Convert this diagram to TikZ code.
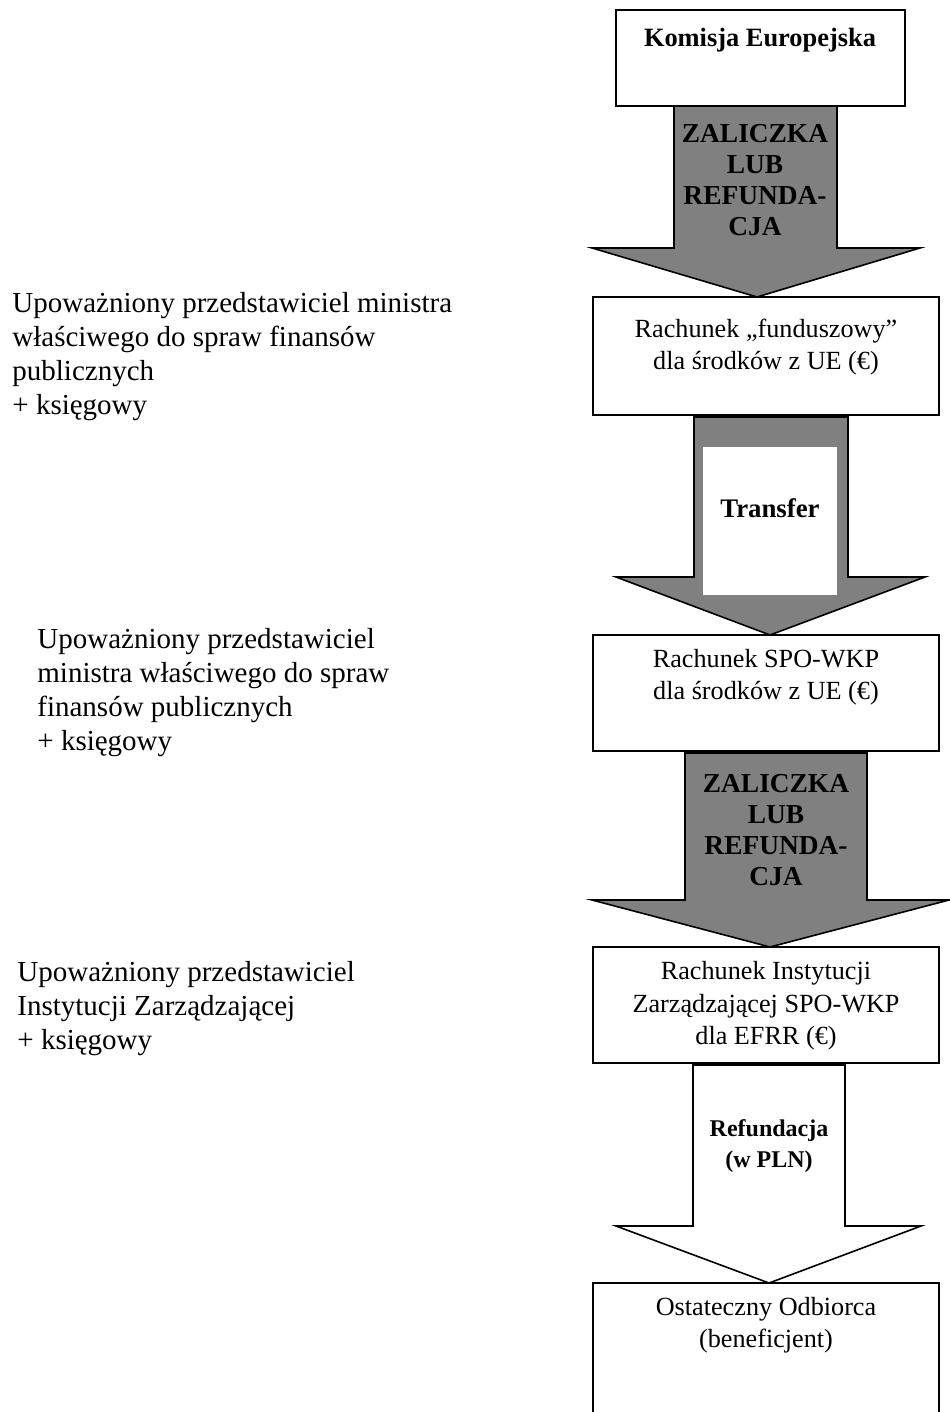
\documentclass[tikz,border=0pt]{standalone}
\usepackage{fontspec}
\setmainfont{Liberation Serif}
\usetikzlibrary{ positioning
               }

\begin{document}
\begin{tikzpicture}
      [ x=0.5pt, y=-0.5pt
      , account/.style={draw, line width=0.9pt, fill=white}
      , accText/.style={align=center, inner sep=0pt, font=\fontsize{13.1}{16.2}\selectfont}
      , person/.style={anchor=west, align=left, inner sep=0pt, font=\fontsize{14.5}{17}\selectfont}
      , darkFlow/.style={draw, line width=0.8pt, fill=gray}
      , lightFlow/.style={draw, line width=0.8pt, fill=white}
      , flowText/.style={align=center, inner sep=0pt, font=\fontsize{13.7}{15.5}\selectfont\bfseries}
      ]
    \useasboundingbox (0,0) rectangle (949,1412);

    % block arrows between the accounts
    \draw[darkFlow] (674,106) -- (674,248) -- (592,248) -- (757,297)
      -- (920,248) -- (837,248) -- (837,106) -- cycle;
    \draw[darkFlow] (694,417) -- (694,577) -- (616,577) -- (770,635)
      -- (925,577) -- (848,577) -- (848,417) -- cycle;
    \fill[white] (703,447) rectangle (837,595);
    \draw[darkFlow] (685,753) -- (685,900) -- (592,900) -- (770,947)
      -- (949,900) -- (867,900) -- (867,753) -- cycle;
    \draw[lightFlow] (693,1065) -- (693,1226) -- (616,1226) -- (769,1283)
      -- (921,1226) -- (845,1226) -- (845,1065) -- cycle;

    \node[flowText] (F1) at (755,180) {ZALICZKA\\LUB\\REFUNDA-\\CJA};
    \node[flowText, font=\fontsize{13.4}{15.5}\selectfont\bfseries] (F2) at (770,508) {Transfer};
    \node[flowText] (F3) at (776,830) {ZALICZKA\\LUB\\REFUNDA-\\CJA};
    \node[flowText, font=\fontsize{12}{15.5}\selectfont\bfseries] (F4) at (769,1146) {Refundacja\\(w PLN)};

    % accounts
    \node[account, minimum width=144.5pt, minimum height=48pt] (KE) at (760.5,58) {};
    \node[account, minimum width=173pt, minimum height=59pt] (RF) at (766,356) {};
    \node[account, minimum width=173pt, minimum height=58pt] (RS) at (766,693) {};
    \node[account, minimum width=173pt, minimum height=58pt] (RI) at (766,1005) {};
    \node[account, minimum width=173pt, minimum height=67.5pt] (OO) at (766,1350.5) {};

    \node[accText, font=\fontsize{13.2}{16}\selectfont\bfseries] (tKE) at (760,40) {Komisja Europejska};
    \node[accText] (tRF) at (766,347) {Rachunek „funduszowy”\\dla środków z UE (€)};
    \node[accText] (tRS) at (766,677) {Rachunek SPO-WKP\\dla środków z UE (€)};
    \node[accText] (tRI) at (766,1006) {Rachunek Instytucji\\Zarządzającej SPO-WKP\\dla EFRR (€)};
    \node[accText] (tOO) at (766,1325) {Ostateczny Odbiorca\\(beneficjent)};

    % who operates each account
    \node[person] (P1) at (12,357) {Upoważniony przedstawiciel ministra\\właściwego do spraw finansów\\publicznych\\+ księgowy};
    \node[person] (P2) at (37,693) {Upoważniony przedstawiciel\\ministra właściwego do spraw\\finansów publicznych\\+ księgowy};
    \node[person] (P3) at (17,1009) {Upoważniony przedstawiciel\\Instytucji Zarządzającej\\+ księgowy};
    \end{tikzpicture}
\end{document}
